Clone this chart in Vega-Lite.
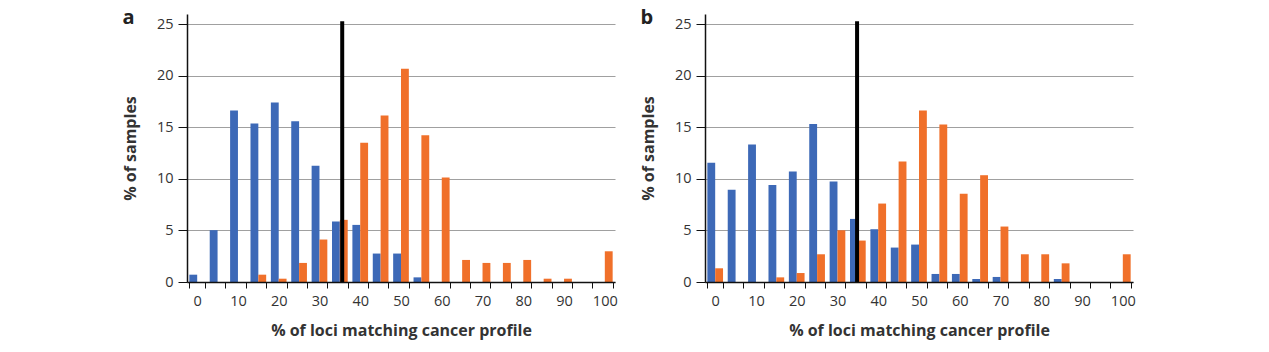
{
  "$schema": "https://vega.github.io/schema/vega-lite/v6.json",
  "background": "white",
  "padding": {"left": 122, "top": 8, "right": 100, "bottom": 5},
  "spacing": 22,
  "config": {
    "view": {"stroke": null},
    "font": "Open Sans",
    "title": {"fontSize": 20, "fontWeight": "bold", "color": "#222", "anchor": "start", "frame": "bounds"},
    "axis": {"domainColor": "#111", "tickColor": "#111", "labelColor": "#333", "titleColor": "#333", "labelFontSize": 14.5, "titleFontSize": 16, "titleFontWeight": "bold", "labelFont": "Open Sans", "titleFont": "Open Sans"}
  },
  "datasets": {
    "bars": [
      {"panel":"a","bin":0,"series":"s1","pct":0.71},{"panel":"a","bin":0,"series":"s2","pct":0},
      {"panel":"a","bin":5,"series":"s1","pct":5.03},{"panel":"a","bin":5,"series":"s2","pct":0},
      {"panel":"a","bin":10,"series":"s1","pct":16.63},{"panel":"a","bin":10,"series":"s2","pct":0},
      {"panel":"a","bin":15,"series":"s1","pct":15.37},{"panel":"a","bin":15,"series":"s2","pct":0.71},
      {"panel":"a","bin":20,"series":"s1","pct":17.41},{"panel":"a","bin":20,"series":"s2","pct":0.32},
      {"panel":"a","bin":25,"series":"s1","pct":15.6},{"panel":"a","bin":25,"series":"s2","pct":1.85},
      {"panel":"a","bin":30,"series":"s1","pct":11.28},{"panel":"a","bin":30,"series":"s2","pct":4.12},
      {"panel":"a","bin":35,"series":"s1","pct":5.87},{"panel":"a","bin":35,"series":"s2","pct":6.03},
      {"panel":"a","bin":40,"series":"s1","pct":5.54},{"panel":"a","bin":40,"series":"s2","pct":13.52},
      {"panel":"a","bin":45,"series":"s1","pct":2.76},{"panel":"a","bin":45,"series":"s2","pct":16.15},
      {"panel":"a","bin":50,"series":"s1","pct":2.76},{"panel":"a","bin":50,"series":"s2","pct":20.69},
      {"panel":"a","bin":55,"series":"s1","pct":0.45},{"panel":"a","bin":55,"series":"s2","pct":14.23},
      {"panel":"a","bin":60,"series":"s1","pct":0},{"panel":"a","bin":60,"series":"s2","pct":10.15},
      {"panel":"a","bin":65,"series":"s1","pct":0},{"panel":"a","bin":65,"series":"s2","pct":2.14},
      {"panel":"a","bin":70,"series":"s1","pct":0},{"panel":"a","bin":70,"series":"s2","pct":1.85},
      {"panel":"a","bin":75,"series":"s1","pct":0},{"panel":"a","bin":75,"series":"s2","pct":1.85},
      {"panel":"a","bin":80,"series":"s1","pct":0},{"panel":"a","bin":80,"series":"s2","pct":2.14},
      {"panel":"a","bin":85,"series":"s1","pct":0},{"panel":"a","bin":85,"series":"s2","pct":0.32},
      {"panel":"a","bin":90,"series":"s1","pct":0},{"panel":"a","bin":90,"series":"s2","pct":0.32},
      {"panel":"a","bin":95,"series":"s1","pct":0},{"panel":"a","bin":95,"series":"s2","pct":0},
      {"panel":"a","bin":100,"series":"s1","pct":0},{"panel":"a","bin":100,"series":"s2","pct":2.98},
      {"panel":"b","bin":0,"series":"s1","pct":11.56},{"panel":"b","bin":0,"series":"s2","pct":1.33},
      {"panel":"b","bin":5,"series":"s1","pct":8.94},{"panel":"b","bin":5,"series":"s2","pct":0},
      {"panel":"b","bin":10,"series":"s1","pct":13.34},{"panel":"b","bin":10,"series":"s2","pct":0},
      {"panel":"b","bin":15,"series":"s1","pct":9.42},{"panel":"b","bin":15,"series":"s2","pct":0.45},
      {"panel":"b","bin":20,"series":"s1","pct":10.72},{"panel":"b","bin":20,"series":"s2","pct":0.87},
      {"panel":"b","bin":25,"series":"s1","pct":15.32},{"panel":"b","bin":25,"series":"s2","pct":2.69},
      {"panel":"b","bin":30,"series":"s1","pct":9.75},{"panel":"b","bin":30,"series":"s2","pct":5.02},
      {"panel":"b","bin":35,"series":"s1","pct":6.12},{"panel":"b","bin":35,"series":"s2","pct":4.02},
      {"panel":"b","bin":40,"series":"s1","pct":5.12},{"panel":"b","bin":40,"series":"s2","pct":7.61},
      {"panel":"b","bin":45,"series":"s1","pct":3.34},{"panel":"b","bin":45,"series":"s2","pct":11.69},
      {"panel":"b","bin":50,"series":"s1","pct":3.63},{"panel":"b","bin":50,"series":"s2","pct":16.64},
      {"panel":"b","bin":55,"series":"s1","pct":0.78},{"panel":"b","bin":55,"series":"s2","pct":15.28},
      {"panel":"b","bin":60,"series":"s1","pct":0.78},{"panel":"b","bin":60,"series":"s2","pct":8.55},
      {"panel":"b","bin":65,"series":"s1","pct":0.29},{"panel":"b","bin":65,"series":"s2","pct":10.36},
      {"panel":"b","bin":70,"series":"s1","pct":0.49},{"panel":"b","bin":70,"series":"s2","pct":5.38},
      {"panel":"b","bin":75,"series":"s1","pct":0},{"panel":"b","bin":75,"series":"s2","pct":2.69},
      {"panel":"b","bin":80,"series":"s1","pct":0},{"panel":"b","bin":80,"series":"s2","pct":2.69},
      {"panel":"b","bin":85,"series":"s1","pct":0.29},{"panel":"b","bin":85,"series":"s2","pct":1.81},
      {"panel":"b","bin":90,"series":"s1","pct":0},{"panel":"b","bin":90,"series":"s2","pct":0},
      {"panel":"b","bin":95,"series":"s1","pct":0},{"panel":"b","bin":95,"series":"s2","pct":0},
      {"panel":"b","bin":100,"series":"s1","pct":0},{"panel":"b","bin":100,"series":"s2","pct":2.69}
    ],
    "cutoff": [{"bin": 35}]
  },
  "hconcat": [
    {
      "title": {"text": "a", "offset": -14},
      "width": 428,
      "height": 268,
      "layer": [
        {
          "data": {"name": "bars"},
          "transform": [{"filter": "datum.panel === 'a'"}],
          "mark": {"type": "bar"},
          "encoding": {
            "x": {"field": "bin", "type": "ordinal", "scale": {"paddingInner": 0.23, "paddingOuter": 0.115},
                  "axis": {"tickBand": "extent", "labelAngle": 0, "labelExpr": "datum.value % 10 == 0 ? datum.label : ''", "tickSize": 6, "labelPadding": 6, "titlePadding": 15, "domainWidth": 1.5, "zindex": 1, "title": "% of loci matching cancer profile"}},
            "xOffset": {"field": "series", "type": "nominal", "scale": {"paddingInner": 0, "paddingOuter": 0}},
            "y": {"field": "pct", "type": "quantitative", "scale": {"domain": [0, 25]},
                  "axis": {"values": [0, 5, 10, 15, 20, 25], "grid": true, "gridColor": "#a0a0a0", "gridWidth": 1.2, "tickSize": 9, "labelPadding": 5, "titlePadding": 18, "domainWidth": 1.5, "title": "% of samples"}},
            "color": {"field": "series", "type": "nominal", "scale": {"domain": ["s1", "s2"], "range": ["#3d69b7", "#f0702a"]}, "legend": null}
          }
        },
        {
          "data": {"name": "cutoff"},
          "mark": {"type": "rule", "color": "#000", "strokeWidth": 4},
          "encoding": {
            "x": {"field": "bin", "type": "ordinal", "bandPosition": 0.65},
            "y": {"datum": 25.3, "type": "quantitative"},
            "y2": {"datum": 0}
          }
        }
      ]
    },
    {
      "title": {"text": "b", "offset": -14},
      "width": 428,
      "height": 268,
      "layer": [
        {
          "data": {"name": "bars"},
          "transform": [{"filter": "datum.panel === 'b'"}],
          "mark": {"type": "bar"},
          "encoding": {
            "x": {"field": "bin", "type": "ordinal", "scale": {"paddingInner": 0.23, "paddingOuter": 0.115},
                  "axis": {"tickBand": "extent", "labelAngle": 0, "labelExpr": "datum.value % 10 == 0 ? datum.label : ''", "tickSize": 6, "labelPadding": 6, "titlePadding": 15, "domainWidth": 1.5, "zindex": 1, "title": "% of loci matching cancer profile"}},
            "xOffset": {"field": "series", "type": "nominal", "scale": {"paddingInner": 0, "paddingOuter": 0}},
            "y": {"field": "pct", "type": "quantitative", "scale": {"domain": [0, 25]},
                  "axis": {"values": [0, 5, 10, 15, 20, 25], "grid": true, "gridColor": "#a0a0a0", "gridWidth": 1.2, "tickSize": 9, "labelPadding": 5, "titlePadding": 18, "domainWidth": 1.5, "title": "% of samples"}},
            "color": {"field": "series", "type": "nominal", "scale": {"domain": ["s1", "s2"], "range": ["#3d69b7", "#f0702a"]}, "legend": null}
          }
        },
        {
          "data": {"name": "cutoff"},
          "mark": {"type": "rule", "color": "#000", "strokeWidth": 4},
          "encoding": {
            "x": {"field": "bin", "type": "ordinal", "bandPosition": 0.45},
            "y": {"datum": 25.3, "type": "quantitative"},
            "y2": {"datum": 0}
          }
        }
      ]
    }
  ]
}
